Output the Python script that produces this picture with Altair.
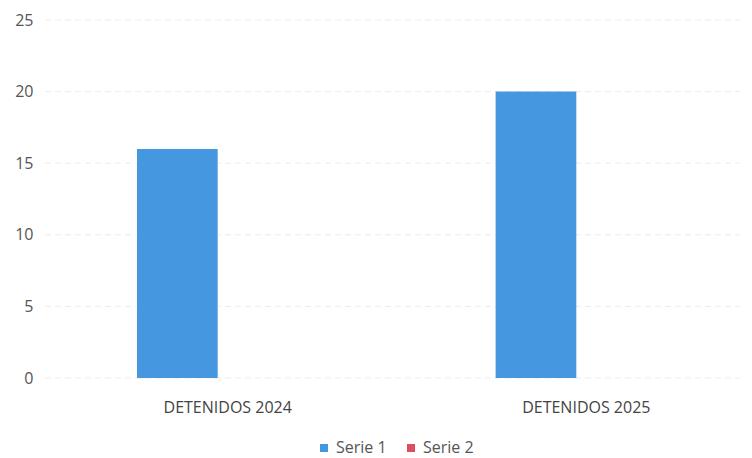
import altair as alt
import pandas as pd

categories = ["DETENIDOS 2024", "DETENIDOS 2025"]
serie1 = [16, 20]
serie2 = [0, 0]
series_names = ["Serie 1", "Serie 2"]
colors = ["#4598e0", "#d9505c"]
y_ticks = [0, 5, 10, 15, 20, 25]

rows = []
for i, c in enumerate(categories):
    rows.append({"cat": c, "serie": series_names[0], "val": serie1[i]})
    rows.append({"cat": c, "serie": series_names[1], "val": serie2[i]})
df = pd.DataFrame(rows)
grid_df = pd.DataFrame({"val": y_ticks})

font = "Open Sans"

y_scale = alt.Scale(domain=[0, 25], nice=False)

grid = alt.Chart(grid_df).mark_rule(color="#ececec", strokeDash=[6, 4], strokeWidth=1).encode(
    y=alt.Y("val:Q", scale=y_scale, title=None),
    x=alt.value(0),
    x2=alt.value(700),
)

bars = alt.Chart(df).mark_bar().encode(
    x=alt.X("cat:N", sort=categories, title=None,
            scale=alt.Scale(paddingInner=0.55, paddingOuter=0, range=[92, 612]),
            axis=alt.Axis(labelAngle=0, domain=False, ticks=False, grid=False,
                          labelPadding=21, labelFontSize=16, labelColor="#444",
                          labelFont=font, labelOffset=10)),
    xOffset=alt.XOffset("serie:N", sort=series_names, scale=alt.Scale(paddingInner=0, paddingOuter=0)),
    y=alt.Y("val:Q", title=None, scale=y_scale,
            axis=alt.Axis(values=y_ticks, domain=False, ticks=False, grid=False,
                          labelPadding=12, labelFontSize=16, labelColor="#555",
                          labelFont=font)),
    color=alt.Color("serie:N", sort=series_names,
                    scale=alt.Scale(domain=series_names, range=colors),
                    legend=alt.Legend(orient="none", legendX=271, legendY=420,
                                      direction="horizontal", title=None,
                                      symbolType="square", symbolSize=64, labelFontSize=16,
                                      labelColor="#555", labelFont=font,
                                      columnPadding=16, symbolStrokeWidth=0)),
)

chart = alt.layer(grid, bars).properties(
    width=695, height=358,
    autosize=alt.AutoSizeParams(type="none"),
    padding={"left": 37, "top": 12, "right": 0, "bottom": 80},
).configure_view(stroke=None)

chart.save("out.html", embed_options={"renderer": "svg", "actions": False})
